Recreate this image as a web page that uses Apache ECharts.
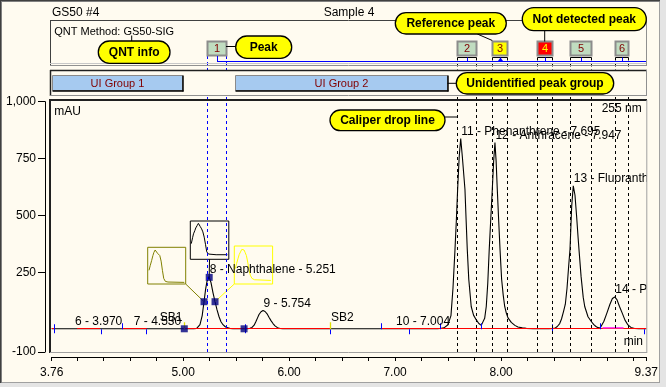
<!DOCTYPE html>
<html><head><meta charset="utf-8">
<script src="https://cdn.jsdelivr.net/npm/echarts@6/dist/echarts.min.js"></script>
<style>html,body{margin:0;padding:0;background:#fffbf0;}#c{width:666px;height:387px;}</style>
</head><body><div id="c"></div>
<script>
// ---------------- DATA ----------------
const signalTime = [3.76,4.00,4.50,5.00,5.10,
 5.128,5.159,5.18,5.197,5.212,5.225,5.244,5.263,5.282,5.301,5.32,5.339,5.357,5.376,5.395,5.414,5.44,5.47,
 5.60,5.63,5.65,5.67,5.688,5.702,5.716,5.735,5.754,5.773,5.792,5.81,5.829,5.848,5.867,5.89,5.914,5.94,
 6.50,7.00,7.40,
 7.424,7.461,7.499,7.527,7.546,7.565,7.578,7.59,7.605,7.619,7.634,7.659,7.67,7.681,7.695,7.718,7.74,7.766,7.79,7.813,
 7.829,7.845,7.86,7.874,7.888,7.902,7.917,7.93,7.942,7.953,7.964,7.977,7.99,8.005,8.02,8.034,8.05,8.065,8.096,8.13,8.159,8.2,8.238,8.30,8.45,
 8.506,8.53,8.553,8.57,8.59,8.606,8.622,8.638,8.65,8.666,8.681,8.697,8.712,8.727,8.735,8.755,8.775,8.789,8.82,8.851,8.875,8.895,8.915,8.935,
 8.95,8.97,8.998,9.027,9.05,9.072,9.093,9.117,9.143,9.169,9.197,9.225,9.26,9.30,9.37];
const signalValue = [2,2,2,2,2,
 4,20,60,121,175,210,232,205,160,121,85,55,33,20,12,7,4,2,
 2,4,8,18,35,50,65,77,82,78,68,53,38,25,15,7,3,2,
 2,2,2,
 3,6,20,60,180,350,480,615,760,838,760,615,480,350,220,100,62,41,25,17,
 25,48,100,200,350,480,615,740,821,740,615,480,350,220,150,100,70,50,30,17,10,6,4,2,2,
 4,12,25,45,80,110,180,280,350,540,630,590,500,400,350,230,140,100,55,34,20,12,7,5,
 12,35,71,110,135,142,130,100,71,40,19,8,3,2,2];

const baselineStart = [3.76, 4.00, 4.42, 5.002, 6.867];
const baselineEnd   = [3.79, 4.216, 4.657, 6.389, 9.37];
const pinkSegStart = [8.957], pinkSegEnd = [9.155], pinkSegValue = [7];

const peakLabelText = ['6 - 3.970','7 - 4.530','8 - Naphthalene - 5.251','9 - 5.754','10 - 7.004',
  '11 - Phenanthrene - 7.695','12 - Anthracene - 7.947','13 - Fluoranthene - 8.681','14 - Pyrene - 9.072'];
const peakApexTime  = [3.974, 4.530, 5.246, 5.754, 7.004, 7.619, 7.942, 8.681, 9.072];
const peakApexValue = [2, 2, 232, 82, 2, 838, 821, 630, 142];

const markerTime  = [5.011, 5.197, 5.246, 5.301, 5.575];
const markerValue = [2, 121, 228, 121, 2];

const delimTime = [3.785, 4.223, 4.421, 4.647, 5.584, 6.386, 6.867, 7.128, 7.426, 7.813, 8.483, 8.930, 9.345];
const delimDir  = [0, -1, 1, -1, 0, -1, 1, -1, 1, 1, 0, 1, -1];

const sbTime = [5.011, 6.386];
const sbText = ['SB1', 'SB2'];

const peakBoxStart = [5.228, 7.587, 7.917, 8.342, 8.647, 9.072];
const peakBoxEnd   = [5.405, 7.766, 8.058, 8.483, 8.845, 9.197];
const peakBoxLabel = ['1','2','3','4','5','6'];
const peakBoxState = ['selected','identified','reference','missing','identified','identified'];

const groupStart = [3.76, 5.49];
const groupEnd   = [5.0, 7.495];
const groupLabel = ['UI Group 1', 'UI Group 2'];

const xTickValues = [3.76,4.00,4.25,4.50,4.75,5.00,5.25,5.50,5.75,6.00,6.25,6.50,6.75,7.00,7.25,7.50,7.75,8.00,8.25,8.50,8.75,9.00,9.25,9.37];
const xLabelValues = [3.76, 5.00, 6.00, 7.00, 8.00, 9.37];
const yLabelValues = [-100, 250, 500, 750, 1000];

const oliveSpecX = [0.035,0.07,0.105,0.14,0.167,0.2,0.237,0.263,0.29,0.325,0.36,0.395,0.43,0.474,0.544,0.982];
const oliveSpecY = [0.38,0.52,0.65,0.79,0.88,0.945,1.0,0.855,0.836,0.79,0.636,0.38,0.155,0.073,0.055,0.045];
const blackSpecX = [0.026,0.06,0.085,0.12,0.145,0.18,0.214,0.239,0.265,0.3,0.333,0.368,0.402,0.436,0.479,0.684,0.983];
const blackSpecY = [0.417,0.574,0.678,0.765,0.835,0.896,0.957,0.939,0.87,0.81,0.73,0.59,0.4,0.2,0.14,0.122,0.122];
const yellowSpecX = [0.026,0.06,0.096,0.13,0.165,0.2,0.235,0.26,0.287,0.322,0.357,0.39,0.426,0.47,0.54,0.974];
const yellowSpecY = [0.41,0.544,0.675,0.79,0.86,0.93,0.965,0.912,0.85,0.763,0.588,0.386,0.237,0.15,0.114,0.096];
const thumbMarker = [1, 2, 3]; // which marker each spectrum thumbnail belongs to

// ---------------- STYLE / LAYOUT ----------------
const FONT = '"Liberation Sans", Arial, sans-serif';
const BG = '#fffbf0';
const G = {left: 51.7, top: 101.7, width: 594.6, height: 250.3};
const thumbs = [
  {left:147.7, top:247.3, width:38, height:36.7, color:'#808000', ax:185.7, ay:284},
  {left:190.3, top:221, width:38.5, height:38.3, color:'#000000', ax:209.5, ay:259.3},
  {left:234.3, top:246, width:38.3, height:38, color:'#ffff00', ax:234.3, ay:284}
];
const boxFill = {selected:'#c0dcc0', identified:'#c0dcc0', reference:'#ffff00', missing:'#ff0000'};
const boxText = {selected:'#800000', identified:'#800000', reference:'#800000', missing:'#ffff00'};

function txt(s, o) {
  return Object.assign({text:s, fill:'#000', font:'12px '+FONT, align:'left', verticalAlign:'middle',
    textAlign:'left', textVerticalAlign:'middle'}, o || {});
}
function hline(x1, x2, y, c, w, z, dash) {
  return {type:'line', z:z||50, silent:true, shape:{x1:x1,y1:y,x2:x2,y2:y}, style:{stroke:c, lineWidth:w||1, lineDash:dash||null}};
}
function vline(x, y1, y2, c, w, z) {
  return {type:'line', z:z||50, silent:true, shape:{x1:x,y1:y1,x2:x,y2:y2}, style:{stroke:c, lineWidth:w||1}};
}
function callout(x, y, w, h, s) {
  return [
    {type:'rect', z:100, silent:true, shape:{x:x,y:y,width:w,height:h,r:h/2}, style:{fill:'#ffff00', stroke:'#000', lineWidth:1.3}},
    {type:'text', z:101, silent:true, x:x+w/2, y:y+h/2+0.5, style:txt(s, {font:'bold 12px '+FONT, align:'center', textAlign:'center'})}
  ];
}

const graphics = [].concat(
  // window border
  [vline(0.5,0,387,'#404040',1,1), hline(0,666,0.5,'#404040',1,1),
   vline(1.5,1,386,'#808080',1,1), hline(1,665,1.5,'#808080',1,1),
   {type:'rect', z:1, silent:true, shape:{x:660,y:0,width:6,height:387}, style:{fill:'#e4e4e4'}},
   {type:'rect', z:1, silent:true, shape:{x:0,y:383,width:666,height:4}, style:{fill:'#e4e4e4'}},
   vline(659.5,2,383,'#a0a0a0',1,1), hline(2,660,382.5,'#a0a0a0',1,1)],
  // titles
  [{type:'text', z:60, silent:true, x:52, y:13, style:txt('GS50 #4')},
   {type:'text', z:60, silent:true, x:349, y:13, style:txt('Sample 4', {align:'center', textAlign:'center'})}],
  // QNT box
  [hline(50,647,20.5,'#404040'), vline(50.5,20,66,'#404040'),
   hline(50,647,63.5,'#c8c8c8'), hline(50,647,65.5,'#909090'), vline(646.5,20,66,'#909090'),
   {type:'text', z:60, silent:true, x:54.3, y:31.7, style:txt('QNT Method: GS50-SIG', {font:'11px '+FONT})}],
  // group box
  [hline(50,647,70.5,'#202020',1.5), vline(50.5,70,96,'#202020',1.5),
   hline(50,647,95.5,'#909090'), vline(646.5,70,96,'#909090')],
  // plot frame
  [{type:'rect', z:48, silent:true, shape:{x:647.3,y:99,width:11,height:254}, style:{fill:BG}},
   hline(49,647,100,'#202020',2), vline(50,99,353,'#202020',2),
   hline(50,647,352.5,'#a0a0a0'), vline(646.8,100,353,'#a0a0a0')],
  // in-plot texts
  [{type:'text', z:60, silent:true, x:54.3, y:112, style:txt('mAU')},
   {type:'text', z:60, silent:true, x:641.7, y:108.3, style:txt('255 nm', {align:'right', textAlign:'right'})},
   {type:'text', z:60, silent:true, x:643, y:341.7, style:txt('min', {align:'right', textAlign:'right'})}],
  // callouts
  callout(98.3, 41, 71.7, 22.3, 'QNT info'), [vline(131.7,35.5,41,'#000',1,99)],
  callout(235.7, 36, 56, 22.3, 'Peak'), [hline(226,235.7,46.5,'#000',1,99)],
  callout(395.3, 12.7, 111, 21.3, 'Reference peak'),
  [{type:'line', z:99, silent:true, shape:{x1:477.3,y1:34,x2:492.3,y2:40.5}, style:{stroke:'#000', lineWidth:1}}],
  callout(522.3, 7.7, 124, 23, 'Not detected peak'), [vline(544.7,30.7,41.5,'#000',1,99)],
  callout(456.3, 72.7, 157.4, 21.3, 'Unidentified peak group'), [hline(447.5,456.3,83.3,'#000',1,99)],
  callout(330, 110, 115, 20.7, 'Caliper drop line'), [hline(445,457,117,'#000',1,99)]
);

// ---------------- RENDERERS ----------------
function renderBaseline(params, api) {
  const a = api.coord([api.value(0), 0]), b = api.coord([api.value(1), 0]);
  const y = Math.round(a[1]) - 0.5;
  return {type:'line', shape:{x1:a[0],y1:y,x2:b[0],y2:y}, style:{stroke:'#ff0000', lineWidth:1}};
}
function renderPink(params, api) {
  const a = api.coord([api.value(0), api.value(2)]), b = api.coord([api.value(1), api.value(2)]);
  return {type:'line', shape:{x1:a[0],y1:a[1],x2:b[0],y2:b[1]}, style:{stroke:'#ff40ff', lineWidth:1.5}};
}
function renderDelim(params, api) {
  const p = api.coord([api.value(0), 0]);
  const d = api.value(1);
  const x = Math.round(p[0]) + 0.5;
  let y1, y2;
  if (d > 0) { y1 = p[1] - 6; y2 = p[1]; }
  else if (d < 0) { y1 = p[1]; y2 = p[1] + 5; }
  else { y1 = p[1] - 5; y2 = p[1] + 4; }
  return {type:'line', shape:{x1:x,y1:y1,x2:x,y2:y2}, style:{stroke:'#0000ff', lineWidth:1}};
}
function renderSB(params, api) {
  const i = api.value(1);
  const p = api.coord([api.value(0), 0]);
  const x = Math.round(p[0]) + 0.5;
  const left = i > 0;
  return {type:'group', children:[
    {type:'line', shape:{x1:x,y1:p[1]-7,x2:x,y2:p[1]}, style:{stroke:'#e0e000', lineWidth:1.3}},
    {type:'text', x: left ? x + 0.5 : x - 2, y: p[1] - 11.5,
      style: txt(sbText[i], left ? {} : {align:'right', textAlign:'right'})}
  ]};
}
function renderPeakLabel(params, api) {
  const i = api.value(2);
  const p = api.coord([api.value(0), api.value(1)]);
  return {type:'text', x:p[0] + 0.5, y:p[1] - 7, style: txt(peakLabelText[i])};
}
function renderConnector(params, api) {
  const k = api.value(2);
  const p = api.coord([api.value(0), api.value(1)]);
  const t = thumbs[k];
  return {type:'line', shape:{x1:t.ax,y1:t.ay,x2:p[0],y2:p[1]}, style:{stroke:t.color, lineWidth:1}};
}
function renderGroups(params, api) {
  const i = api.value(2);
  const x0 = Math.round(api.coord([api.value(0), 0])[0]) + 0.5;
  const x1 = Math.round(api.coord([api.value(1), 0])[0]) - 0.5;
  const y0 = 75.5, y1 = 90.5;
  return {type:'group', children:[
    {type:'rect', shape:{x:x0,y:y0,width:x1-x0,height:y1-y0}, style:{fill:'#a6caf0', stroke:'#8a8a8a', lineWidth:1}},
    {type:'line', shape:{x1:x0,y1:y1+0.5,x2:x1+1,y2:y1+0.5}, style:{stroke:'#000', lineWidth:1.5}},
    {type:'line', shape:{x1:x1+0.5,y1:y0,x2:x1+0.5,y2:y1+1}, style:{stroke:'#000', lineWidth:1.5}},
    {type:'text', x:(x0+x1)/2, y:(y0+y1)/2+0.5, style: txt(groupLabel[i], {font:'11px '+FONT, fill:'#800000', align:'center', textAlign:'center'})}
  ]};
}
function renderPeakBoxes(params, api) {
  const i = api.value(2);
  const cs = params.coordSys;
  const st = peakBoxState[i];
  const sel = st === 'selected';
  const x0 = Math.round(api.coord([api.value(0), 0])[0]) + 0.5;
  const x1 = Math.round(api.coord([api.value(1), 0])[0]) + 0.5;
  const xc = Math.round((x0 + x1) / 2) + 0.5;
  const dash = sel ? '#0000ff' : '#000000';
  const top = sel ? 56 : 57.5;
  const bottom = cs.y + cs.height;
  const ch = [];
  [x0, x1].forEach(function (x) {
    ch.push({type:'line', shape:{x1:x,y1:top,x2:x,y2:70}, style:{stroke:dash, lineWidth:1, lineDash:[3,3]}});
    ch.push({type:'line', shape:{x1:x,y1:97,x2:x,y2:bottom}, style:{stroke:dash, lineWidth:1, lineDash:[3,3]}});
  });
  ch.push({type:'rect', shape:{x:x0,y:41.5,width:x1-x0,height:14}, style:{fill:boxFill[st], stroke:'#8c8c8c', lineWidth:2}});
  ch.push({type:'text', x:(x0+x1)/2, y:49, style: txt(peakBoxLabel[i], {font:'11px '+FONT, fill:boxText[st], align:'center', textAlign:'center'})});
  if (sel) {
    ch.push({type:'line', shape:{x1:xc,y1:56,x2:xc,y2:62}, style:{stroke:'#0000ff', lineWidth:1}});
    ch.push({type:'line', shape:{x1:xc,y1:61.5,x2:cs.x+cs.width,y2:61.5}, style:{stroke:'#0000ff', lineWidth:1}});
  } else {
    ch.push({type:'line', shape:{x1:x0,y1:57.5,x2:x1,y2:57.5}, style:{stroke:'#000', lineWidth:1}});
    ch.push({type:'line', shape:{x1:xc,y1:57.5,x2:xc,y2:62}, style:{stroke:'#0000ff', lineWidth:1}});
    if (st === 'reference') {
      ch.push({type:'polygon', shape:{points:[[xc,57.5],[xc-2.5,61],[xc+2.5,61]]}, style:{fill:'#0000ff'}});
    }
  }
  return {type:'group', children: ch};
}

// ---------------- OPTION ----------------
const chart = echarts.init(document.getElementById('c'), null, {renderer:'canvas'});
const hiddenAxis = function (gi) { return {gridIndex:gi, type:'value', min:0, max:1.02, show:false}; };
const option = {
  animation: false,
  backgroundColor: BG,
  textStyle: {fontFamily: FONT},
  grid: [
    {left:G.left, top:G.top, width:G.width, height:G.height, show:false, containLabel:false, outerBoundsMode:'none'},
  ].concat(thumbs.map(function (t) {
    return {left:t.left, top:t.top, width:t.width, height:t.height, show:true, borderColor:t.color, borderWidth:1,
      backgroundColor:'transparent', containLabel:false, outerBoundsMode:'none'};
  })),
  xAxis: [
    {gridIndex:0, type:'value', min:3.76, max:9.37, offset:5,
     axisLine:{show:true, onZero:false, lineStyle:{color:'#000', width:1}},
     axisTick:{show:true, customValues:xTickValues, length:4, lineStyle:{color:'#000'}},
     axisLabel:{show:true, customValues:xLabelValues, formatter:function (v) { return Number(v).toFixed(2); },
       color:'#000', fontSize:12, fontFamily:FONT, margin:10},
     splitLine:{show:false}},
    hiddenAxis(1), hiddenAxis(2), hiddenAxis(3)
  ],
  yAxis: [
    {gridIndex:0, type:'value', min:-100, max:1000, interval:50, offset:6.7,
     axisLine:{show:true, onZero:false, lineStyle:{color:'#000', width:1}},
     axisTick:{show:true, customValues:yLabelValues, length:7, lineStyle:{color:'#000'}},
     axisLabel:{show:true, customValues:yLabelValues, formatter:function (v) { return Number(v).toLocaleString('en-US'); },
       color:'#000', fontSize:12, fontFamily:FONT, margin:9},
     splitLine:{show:false}},
    {gridIndex:0, type:'value', min:-100, max:1000, interval:50, offset:6.7,
     axisLine:{show:false, onZero:false}, axisTick:{show:true, length:3, lineStyle:{color:'#000'}},
     axisLabel:{show:false}, splitLine:{show:false}},
    hiddenAxis(1), hiddenAxis(2), hiddenAxis(3)
  ],
  graphic: {elements: graphics},
  series: [
    {type:'line', name:'signal', xAxisIndex:0, yAxisIndex:0, z:3, silent:true, symbol:'none', showSymbol:false,
     lineStyle:{color:'#000', width:1.1}, data: signalTime.map(function (t, i) { return [t, signalValue[i]]; })},
    {type:'custom', name:'baseline', xAxisIndex:0, yAxisIndex:0, z:4, silent:true, clip:true, renderItem:renderBaseline,
     data: baselineStart.map(function (s, i) { return [s, baselineEnd[i]]; })},
    {type:'custom', name:'pink', xAxisIndex:0, yAxisIndex:0, z:4, silent:true, clip:true, renderItem:renderPink,
     data: pinkSegStart.map(function (s, i) { return [s, pinkSegEnd[i], pinkSegValue[i]]; })},
    {type:'custom', name:'delims', xAxisIndex:0, yAxisIndex:0, z:5, silent:true, clip:false, renderItem:renderDelim,
     data: delimTime.map(function (t, i) { return [t, delimDir[i]]; })},
    {type:'custom', name:'sb', xAxisIndex:0, yAxisIndex:0, z:5, silent:true, clip:false, renderItem:renderSB,
     data: sbTime.map(function (t, i) { return [t, i]; })},
    {type:'custom', name:'labels', xAxisIndex:0, yAxisIndex:0, z:6, silent:true, clip:true, renderItem:renderPeakLabel,
     data: peakApexTime.map(function (t, i) { return [t, peakApexValue[i], i]; })},
    {type:'custom', name:'connectors', xAxisIndex:0, yAxisIndex:0, z:6, silent:true, clip:false, renderItem:renderConnector,
     data: thumbMarker.map(function (m, k) { return [markerTime[m], markerValue[m], k]; })},
    {type:'scatter', name:'markers', xAxisIndex:0, yAxisIndex:0, z:7, silent:true, symbol:'rect', symbolSize:7,
     itemStyle:{color:'#000080'}, data: markerTime.map(function (t, i) { return [t, markerValue[i]]; })},
    {type:'custom', name:'groups', xAxisIndex:0, yAxisIndex:0, z:8, silent:true, clip:false, renderItem:renderGroups,
     data: groupStart.map(function (s, i) { return [s, groupEnd[i], i]; })},
    {type:'custom', name:'peakBoxes', xAxisIndex:0, yAxisIndex:0, z:8, silent:true, clip:false, renderItem:renderPeakBoxes,
     data: peakBoxStart.map(function (s, i) { return [s, peakBoxEnd[i], i]; })},
    {type:'line', name:'olive', xAxisIndex:1, yAxisIndex:2, silent:true, symbol:'none', lineStyle:{color:'#808000', width:1},
     data: oliveSpecX.map(function (x, i) { return [x, oliveSpecY[i]]; })},
    {type:'line', name:'black', xAxisIndex:2, yAxisIndex:3, silent:true, symbol:'none', lineStyle:{color:'#000', width:1},
     data: blackSpecX.map(function (x, i) { return [x, blackSpecY[i]]; })},
    {type:'line', name:'yellow', xAxisIndex:3, yAxisIndex:4, silent:true, symbol:'none', lineStyle:{color:'#ffff00', width:1},
     data: yellowSpecX.map(function (x, i) { return [x, yellowSpecY[i]]; })}
  ]
};
chart.setOption(option);
</script></body></html>
